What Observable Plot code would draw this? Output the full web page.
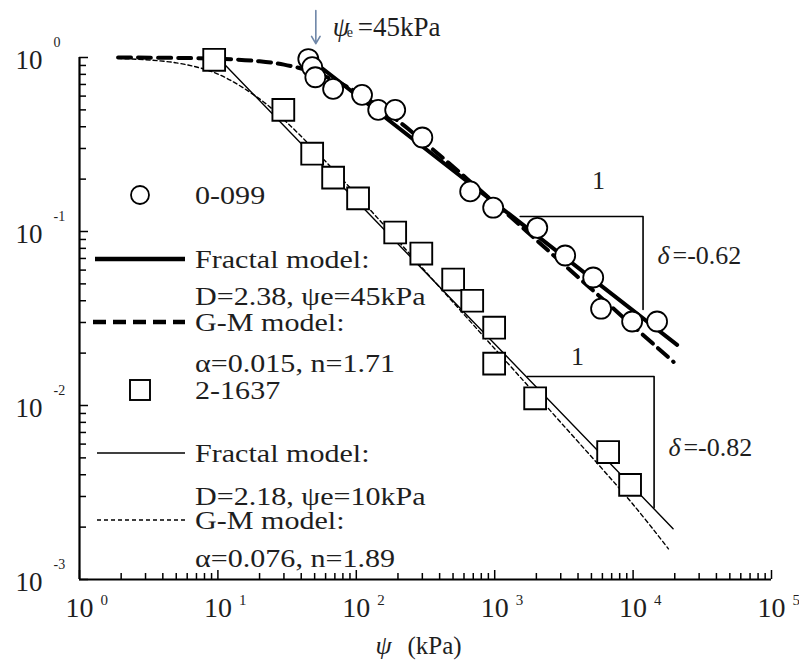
<!DOCTYPE html>
<html><head><meta charset="utf-8">
<script src="https://cdn.jsdelivr.net/npm/d3@7"></script>
<script src="https://cdn.jsdelivr.net/npm/@observablehq/plot@0.6"></script>
<style>
body{margin:0;background:#fff;}
#chart svg{display:block}
#chart svg text{font-family:'Liberation Serif','DejaVu Serif',serif;}
</style></head><body><div id="chart"></div>
<script>
// ---------- data ----------
const circlePsi = [45, 48, 50.6, 68, 110, 144, 191, 300, 665, 975, 2030, 3230, 5150, 5870, 9840, 14900];
const circleSe  = [0.98, 0.88, 0.77, 0.66, 0.61, 0.50, 0.50, 0.347, 0.17, 0.137, 0.105, 0.0728, 0.0544, 0.036, 0.0304, 0.0304];
const squarePsi = [9.4, 29.7, 48, 68, 103, 191, 295, 501, 688, 991, 991, 1960, 6600, 9510];
const squareSe  = [0.97, 0.50, 0.28, 0.204, 0.155, 0.0987, 0.0747, 0.053, 0.040, 0.028, 0.0174, 0.011, 0.0054, 0.0035];

const fracAPsi = [45, 20800];
const fracASe  = [1, 0.0223];
const gmAPsi = [1.9, 10, 20, 30, 45, 60, 100, 200, 300, 1000, 3000, 10000, 19600];
const gmASe  = [1.0, 0.984, 0.951, 0.91, 0.843, 0.777, 0.634, 0.432, 0.333, 0.146, 0.067, 0.0286, 0.0178];

const fracBPsi = [10, 19450];
const fracBSe  = [1, 0.00196];
const gmBPsi = [1.9, 5, 10, 20, 30, 50, 100, 300, 1000, 3000, 10000, 18000];
const gmBSe  = [0.988, 0.932, 0.803, 0.578, 0.439, 0.294, 0.163, 0.0617, 0.0212, 0.008, 0.0027, 0.0015];

const triAPsi = [1528, 11800, 11800];
const triASe  = [0.122, 0.122, 0.0356];
const triBPsi = [1717, 14180, 14180];
const triBSe  = [0.01468, 0.01468, 0.00259];

const slopeOnePsi = [5620, 3960];
const slopeOneSe  = [0.196, 0.0191];
const deltaPsi = [15000, 18000];
const deltaSe  = [0.0728, 0.00574];
const deltaText = ["=-0.62", "=-0.82"];

const arrowPsi = 51;
const arrowSeFrom = 1.86;
const arrowSeTo = 1.2;
const annoSe = 1.5;

const xTicks = [1, 10, 100, 1000, 10000, 100000];
const xExp = ["0", "1", "2", "3", "4", "5"];
const yTicks = [1, 0.1, 0.01, 0.001];
const yExp = ["0", "-1", "-2", "-3"];

const legendLabels = ["0-099", "Fractal model:", "D=2.38, \u03c8e=45kPa", "G-M model:", "\u03b1=0.015, n=1.71",
                      "2-1637", "Fractal model:", "D=2.18, \u03c8e=10kPa", "G-M model:", "\u03b1=0.076, n=1.89"];

// ---------- tables ----------
const zip = (xs, ys) => xs.map((p, i) => ({psi: p, se: ys[i]}));
const circles = zip(circlePsi, circleSe);
const squares = zip(squarePsi, squareSe);
const xMinor = d3.range(0, 5).flatMap(k => d3.range(2, 10).map(m => m * 10 ** k));
const yMinor = d3.range(-3, 0).flatMap(k => d3.range(2, 10).map(m => m * 10 ** k));

// ---------- layout ----------
const W = 799, H = 662, mL = 79, mR = 28, mT = 57, mB = 83;
const frameW = W - mL - mR, frameH = H - mT - mB;
const serif = "'Liberation Serif','DejaVu Serif',serif";
const ink = "#1e1e1e";
const STRETCH = 1.18;

const plot = Plot.plot({
  width: W, height: H,
  marginLeft: mL, marginRight: mR, marginTop: mT, marginBottom: mB,
  x: {type: "log", domain: [1, 1e5], axis: null},
  y: {type: "log", domain: [0.001, 1], axis: null},
  style: {fontFamily: serif, background: "white", overflow: "visible", color: ink},
  marks: [
    // axis lines and ticks
    Plot.ruleX([1], {stroke: "black", strokeWidth: 2.2}),
    Plot.ruleY([0.001], {stroke: "black", strokeWidth: 2.2}),
    Plot.ruleX(xMinor, {insetTop: frameH - 6, stroke: "black", strokeWidth: 1.5}),
    Plot.ruleX(xTicks, {insetTop: frameH - 9, stroke: "black", strokeWidth: 1.5}),
    Plot.ruleY(yMinor, {insetRight: frameW - 7, stroke: "black", strokeWidth: 1.5}),
    Plot.ruleY(yTicks, {insetRight: frameW - 9, stroke: "black", strokeWidth: 1.5}),
    // tick labels
    Plot.text(yTicks, {y: d => d, text: () => "10", frameAnchor: "left", textAnchor: "end", lineAnchor: "middle",
      dx: -37, dy: 3, fontSize: 27, fill: ink, ariaLabel: "plain"}),
    Plot.text(yTicks, {y: d => d, text: (d, i) => yExp[i], frameAnchor: "left", textAnchor: "start", lineAnchor: "middle",
      dx: -26, dy: -15, fontSize: 14, fill: ink, ariaLabel: "plain"}),
    Plot.text(xTicks, {x: d => d, text: () => "10", frameAnchor: "bottom", textAnchor: "middle", lineAnchor: "middle",
      dy: 29, fontSize: 28, fill: ink, ariaLabel: "tall"}),
    Plot.text(xTicks, {x: d => d, text: (d, i) => xExp[i], frameAnchor: "bottom", textAnchor: "start", lineAnchor: "middle",
      dx: 21, dy: 21, fontSize: 15, fill: ink, ariaLabel: "plain"}),
    // axis title
    Plot.text(["\u03c8"], {frameAnchor: "bottom", textAnchor: "middle", lineAnchor: "middle", dx: -42, dy: 66,
      fontSize: 26, fontStyle: "italic", fill: ink, ariaLabel: "stretch"}),
    Plot.text(["(kPa)"], {frameAnchor: "bottom", textAnchor: "start", lineAnchor: "middle", dx: -18, dy: 66,
      fontSize: 25, fill: ink, ariaLabel: "stretch"}),
    // model curves
    Plot.line(zip(gmAPsi, gmASe), {x: "psi", y: "se", curve: "catmull-rom", stroke: "black", strokeWidth: 4, strokeDasharray: "13,7"}),
    Plot.line(zip(fracAPsi, fracASe), {x: "psi", y: "se", stroke: "black", strokeWidth: 4}),
    Plot.line(zip(gmBPsi, gmBSe), {x: "psi", y: "se", curve: "catmull-rom", stroke: "black", strokeWidth: 1.4, strokeDasharray: "4,3"}),
    Plot.line(zip(fracBPsi, fracBSe), {x: "psi", y: "se", stroke: "black", strokeWidth: 1.4}),
    // slope triangles
    Plot.line(zip(triAPsi, triASe), {x: "psi", y: "se", stroke: "black", strokeWidth: 1.6}),
    Plot.line(zip(triBPsi, triBSe), {x: "psi", y: "se", stroke: "black", strokeWidth: 1.6}),
    Plot.text(zip(slopeOnePsi, slopeOneSe), {x: "psi", y: "se", text: () => "1", lineAnchor: "middle",
      fontSize: 26, fill: ink, ariaLabel: "stretch"}),
    Plot.text(zip(deltaPsi, deltaSe), {x: "psi", y: "se", text: () => "\u03b4", textAnchor: "start", lineAnchor: "middle",
      fontSize: 26, fontStyle: "italic", fill: ink, ariaLabel: "stretch"}),
    Plot.text(zip(deltaPsi, deltaSe), {x: "psi", y: "se", text: (d, i) => deltaText[i], textAnchor: "start", lineAnchor: "middle",
      dx: 15, fontSize: 26, fill: ink, ariaLabel: "stretch"}),
    // data points
    Plot.dot(circles, {x: "psi", y: "se", r: 10, symbol: "circle", fill: "white", stroke: "black", strokeWidth: 1.8}),
    Plot.dot(squares, {x: "psi", y: "se", r: 12.3, symbol: "square", fill: "white", stroke: "black", strokeWidth: 1.9}),
    // psi_e annotation
    Plot.arrow([0], {x1: () => arrowPsi, x2: () => arrowPsi, y1: () => arrowSeFrom, y2: () => arrowSeTo,
      stroke: "#6f87a8", strokeWidth: 1.6, headLength: 8}),
    Plot.text([0], {x: () => arrowPsi, y: () => annoSe, text: () => "\u03c8", textAnchor: "start", lineAnchor: "middle",
      dx: 17, fontSize: 27, fontStyle: "italic", fill: ink, ariaLabel: "stretch"}),
    Plot.text([0], {x: () => arrowPsi, y: () => annoSe, text: () => "e", textAnchor: "start", lineAnchor: "middle",
      dx: 31, dy: 6, fontSize: 14, fill: ink, ariaLabel: "stretch"}),
    Plot.text([0], {x: () => arrowPsi, y: () => annoSe, text: () => "=45kPa", textAnchor: "start", lineAnchor: "middle",
      dx: 42, fontSize: 27, fill: ink, ariaLabel: "stretch"})
  ]
});

// ---------- legend (drawn inside the chart area) ----------
const svg = d3.select(plot);
const rowY = [195, 259, 296, 322, 363, 390, 453, 496, 520, 558];
const lg = svg.append("g").attr("aria-label", "legend");
const symX = 140, lineX1 = 95, lineX2 = 185, textX = 195;
lg.append("circle").attr("cx", symX).attr("cy", rowY[0]).attr("r", 9).attr("fill", "white").attr("stroke", "black").attr("stroke-width", 1.8);
lg.append("rect").attr("x", symX - 10).attr("y", rowY[5] - 10).attr("width", 20).attr("height", 20).attr("fill", "white").attr("stroke", "black").attr("stroke-width", 1.9);
lg.append("line").attr("x1", lineX1).attr("x2", lineX2).attr("y1", rowY[1]).attr("y2", rowY[1]).attr("stroke", "black").attr("stroke-width", 4.5);
lg.append("line").attr("x1", lineX1 - 2).attr("x2", lineX2).attr("y1", rowY[3]).attr("y2", rowY[3]).attr("stroke", "black").attr("stroke-width", 4.5).attr("stroke-dasharray", "13,7");
lg.append("line").attr("x1", lineX1 + 2).attr("x2", lineX2).attr("y1", rowY[6]).attr("y2", rowY[6]).attr("stroke", "black").attr("stroke-width", 1.4);
lg.append("line").attr("x1", lineX1 + 2).attr("x2", lineX2).attr("y1", rowY[8]).attr("y2", rowY[8]).attr("stroke", "black").attr("stroke-width", 1.4).attr("stroke-dasharray", "4,3");
lg.selectAll("text.lab").data(legendLabels).join("text")
  .attr("class", "lab")
  .attr("transform", (d, i) => `translate(${textX},${rowY[i]}) scale(${STRETCH},1)`)
  .attr("dy", "0.35em")
  .attr("text-anchor", "start")
  .attr("font-size", 25.5)
  .attr("fill", ink)
  .text(d => d);

// horizontal / vertical stretch of the serif text, as in the reference
function restretch(sel, sx, sy) {
  sel.each(function () {
    const t = this.getAttribute("transform");
    if (t) this.setAttribute("transform", t + ` scale(${sx},${sy})`);
    else {
      const x = +this.getAttribute("x") || 0, y = +this.getAttribute("y") || 0;
      this.removeAttribute("x"); this.removeAttribute("y");
      this.setAttribute("transform", `translate(${x},${y}) scale(${sx},${sy})`);
    }
  });
}
restretch(svg.selectAll('g[aria-label="stretch"] text'), STRETCH, 1);
restretch(svg.selectAll('g[aria-label="tall"] text'), 0.95, 1.2);

document.getElementById("chart").appendChild(plot);
</script></body></html>
